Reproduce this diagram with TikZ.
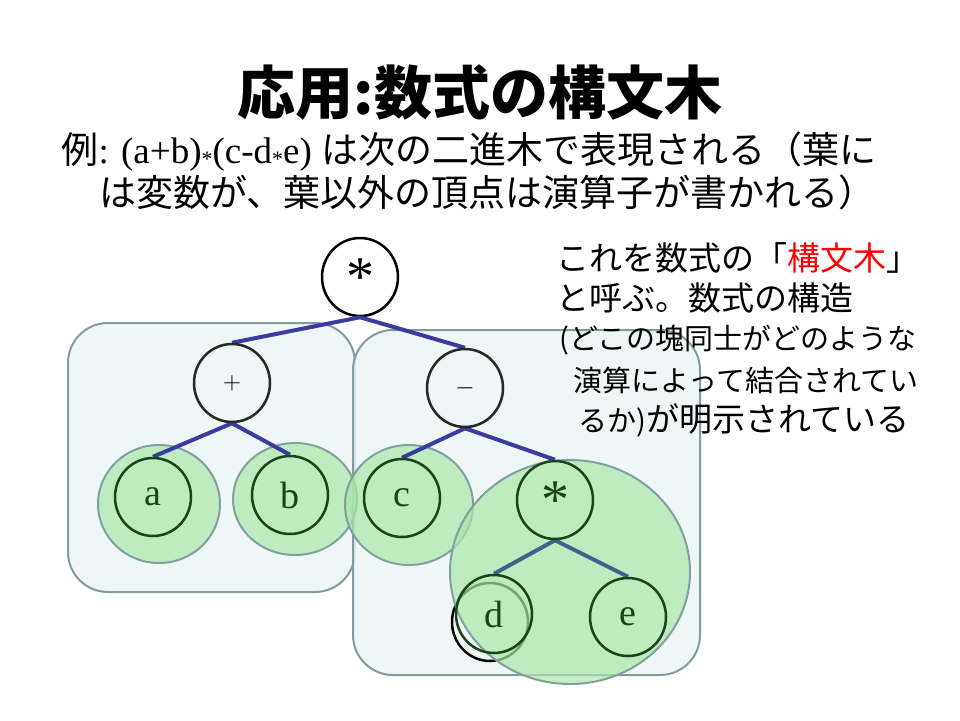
\documentclass[tikz,border=0pt]{standalone}
\usepackage{fontspec}
\setmainfont{Liberation Serif}
\newfontfamily\jp{Noto Sans CJK JP}
\usetikzlibrary{shapes.geometric}
\begin{document}
\begin{tikzpicture}[x=1pt,y=-1pt,
  edge/.style={line width=4pt,color={rgb,255:red,60;green,60;blue,160}},
  gedge/.style={line width=4pt,color={rgb,255:red,60;green,100;blue,140}},
  tn/.style={ellipse,draw=black,line width=2.5pt,minimum width=76pt,minimum height=78pt,inner sep=0pt,font=\fontsize{38}{38}\selectfont},
  op/.style={tn,font=\fontsize{56}{56}\selectfont},
  gn/.style={tn,draw={rgb,255:red,25;green,70;blue,25},text={rgb,255:red,25;green,70;blue,25}},
  box/.style={draw={rgb,255:red,130;green,155;blue,160},line width=2pt,rounded corners=40pt,fill={rgb,255:red,235;green,246;blue,245},fill opacity=0.85},
  gbg/.style={draw={rgb,255:red,130;green,160;blue,160},line width=2pt,fill={rgb,255:red,170;green,230;blue,170},fill opacity=0.7}
]
\useasboundingbox (0,0) rectangle (960,720);
% tree nodes
\node[op] (root) at (360,277) {\raisebox{-8pt}{*}};
\node[op,draw={rgb,255:red,40;green,40;blue,40}] (plus) at (232,383) {$+$};
\node[op,draw={rgb,255:red,40;green,40;blue,40}] (minus) at (465,388) {$-$};
\node[gn] (a) at (153,497) {a};
\node[gn] (b) at (290,495) {b};
\node[gn] (c) at (402,498) {c};
\node[gn,font=\fontsize{56}{56}\selectfont] (m2) at (555,500) {\raisebox{-8pt}{*}};
\node[gn] (d) at (494,614) {d};
\node[gn] (e) at (628,617) {e};
% overlays
\path[box] (68,323) rectangle (355,592);
\path[box] (353,330) rectangle (700,675);
\node[tn,draw=black] (dd) at (490,622) {};
\path[gbg] (159,504) ellipse [x radius=61,y radius=59];
\path[gbg] (295,499) ellipse [x radius=62,y radius=56];
\path[gbg] (409,505) ellipse [x radius=64,y radius=60];
\path[gbg] (570,572) ellipse [x radius=120,y radius=112];
% redraw on top
\draw[edge] (root.south) -- (plus.north);
\draw[edge] (root.south) -- (minus.north);
\draw[edge] (plus.south) -- (a.north);
\draw[edge] (plus.south) -- (b.north);
\draw[edge] (minus.south) -- (c.north);
\draw[edge] (minus.south) -- (m2.north);
\draw[gedge] (m2.south) -- (d.north);
\draw[gedge] (m2.south) -- (e.north);
\node[op,draw={rgb,255:red,40;green,40;blue,40}] at (plus) {$+$};
\node[op,draw={rgb,255:red,40;green,40;blue,40}] at (minus) {$-$};
\node[gn] at (a) {a};
\node[gn] at (b) {b};
\node[gn] at (c) {c};
\node[gn,font=\fontsize{56}{56}\selectfont] at (m2) {\raisebox{-8pt}{*}};
\node[gn] at (d) {d};
\node[gn] at (e) {e};
% texts
\node[font=\jp\bfseries\fontsize{58}{58}\selectfont] (title) at (480,93) {応用:数式の構文木};
\node[anchor=west,font=\fontsize{37}{37}\selectfont] (l1) at (58,152) {{\jp 例}: (a+b)\raisebox{-3pt}{\fontsize{22}{22}\selectfont*}(c-d\raisebox{-3pt}{\fontsize{22}{22}\selectfont*}e) {\jp は次の二進木で表現される（葉に}};
\node[anchor=west,font=\jp\fontsize{37}{37}\selectfont] (l2) at (96,192) {は変数が、葉以外の頂点は演算子が書かれる）};
\node[anchor=west,font=\jp\fontsize{33}{33}\selectfont] (r1) at (553,258) {これを数式の「\textcolor{red}{構文木}」};
\node[anchor=west,font=\jp\fontsize{33}{33}\selectfont] (r2) at (553,298) {と呼ぶ。数式の構造};
\node[anchor=west,font=\jp\fontsize{29}{29}\selectfont] (r3) at (556,340) {(どこの塊同士がどのような};
\node[anchor=west,font=\jp\fontsize{29}{29}\selectfont] (r4) at (570,380) {演算によって結合されてい};
\node[anchor=west,font=\jp\fontsize{29}{29}\selectfont] (r5) at (575,420) {るか){\fontsize{33}{33}\selectfont が明示されている}};
\end{tikzpicture}
\end{document}
